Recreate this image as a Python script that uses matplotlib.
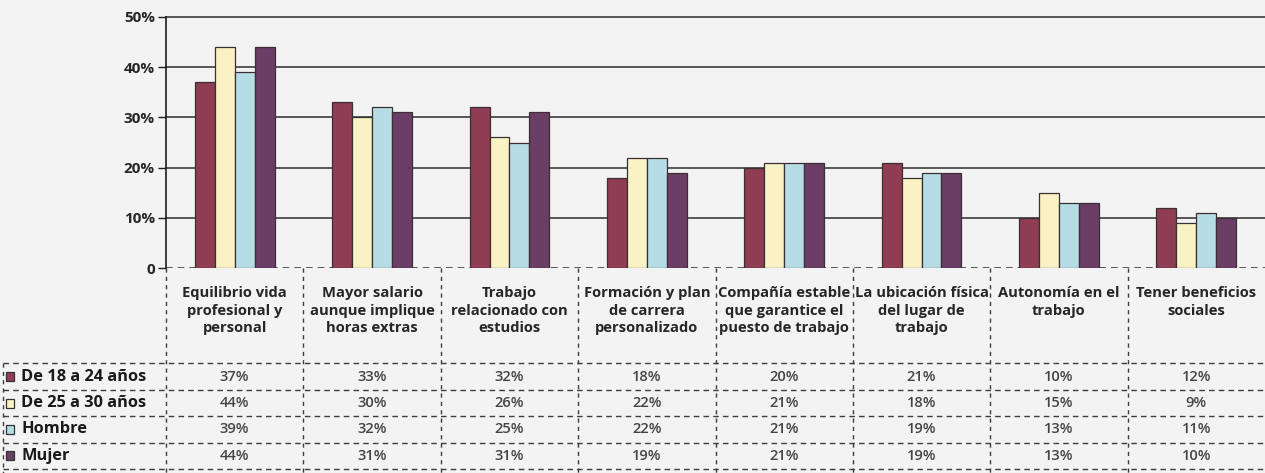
import matplotlib
matplotlib.use("Agg")
import matplotlib.pyplot as plt
from matplotlib.transforms import blended_transform_factory
from matplotlib.patches import Rectangle

# ---- data -------------------------------------------------------------
categories = [
    "Equilibrio vida\nprofesional y\npersonal",
    "Mayor salario\naunque implique\nhoras extras",
    "Trabajo\nrelacionado con\nestudios",
    "Formación y plan\nde carrera\npersonalizado",
    "Compañía estable\nque garantice el\npuesto de trabajo",
    "La ubicación física\ndel lugar de\ntrabajo",
    "Autonomía en el\ntrabajo",
    "Tener beneficios\nsociales",
]
series_names = ["De 18 a 24 años", "De 25 a 30 años", "Hombre", "Mujer"]
edad_18_24 = [37, 33, 32, 18, 20, 21, 10, 12]
edad_25_30 = [44, 30, 26, 22, 21, 18, 15, 9]
hombre = [39, 32, 25, 22, 21, 19, 13, 11]
mujer = [44, 31, 31, 19, 21, 19, 13, 10]
series_values = [edad_18_24, edad_25_30, hombre, mujer]
y_ticks = [0, 10, 20, 30, 40, 50]
y_tick_labels = ["0", "10%", "20%", "30%", "40%", "50%"]

colors = ["#8e3d52", "#f8f2c4", "#b6dce5", "#6b3e66"]

# ---- figure -----------------------------------------------------------
W, H = 1265, 473
fig = plt.figure(figsize=(W / 100, H / 100), dpi=100)
fig.patch.set_facecolor("#f4f3f4")

FONT = "Open Sans"
ink = "#262626"
line_col = "#3c3c3c"

# table area in pixel rows (y grows downward)
tab = fig.add_axes([0, 0, 1, 1], zorder=0)
tab.set_xlim(0, W)
tab.set_ylim(H, 0)
tab.axis("off")

# bar chart
ax_left, ax_bottom_px, ax_top_px = 166, 268, 17
ax = fig.add_axes([ax_left / W, 1 - ax_bottom_px / H, 1 - ax_left / W,
                   (ax_bottom_px - ax_top_px) / H], zorder=2)
ax.set_facecolor("none")
n = len(categories)
ax.set_xlim(-0.5, n - 0.5)
ax.set_ylim(0, 50)

for v in y_ticks[1:]:
    ax.axhline(v, color=line_col, lw=1.2, zorder=0, clip_on=False)
ax.axhline(0, color=line_col, lw=1.2, ls=(0, (4, 3)), zorder=0)

bw = 0.145
for s, (vals, col) in enumerate(zip(series_values, colors)):
    xs = [i + (s - 1.5) * bw for i in range(n)]
    ax.bar(xs, vals, width=bw, color=col, edgecolor="#3a2f33",
           linewidth=0.9, zorder=3)

for side in ["top", "right", "bottom"]:
    ax.spines[side].set_visible(False)
ax.spines["left"].set_color("#1e1e1e")
ax.spines["left"].set_linewidth(1.2)
ax.set_xticks([])
ax.set_yticks(y_ticks)
ax.set_yticklabels(y_tick_labels, fontfamily=FONT, fontweight="bold",
                   fontsize=11, color=ink)
ax.tick_params(axis="y", direction="out", length=6, width=1.0,
               color="#1e1e1e", pad=2)

# ---- table below the chart -------------------------------------------
tr = blended_transform_factory(ax.transData, tab.transData)
dash = (0, (4, 3))
vdash = (0, (3, 3))

header_top = 286
row_lines = [363, 390, 416, 442.5, 469]
row_centers = [(a + b) / 2 for a, b in zip(row_lines[:-1], row_lines[1:])]
label_x0 = -0.5 - (166 - 3) / 137.4      # left edge of the label box
label_sq = -0.5 - (166 - 6) / 137.4
label_tx = -0.5 - (166 - 21) / 137.4

# vertical column dividers
for k in range(n):
    tab.plot([k - 0.5, k - 0.5], [ax_bottom_px, H], transform=tr,
             color=line_col, lw=1.0, ls=vdash, clip_on=False)
tab.plot([label_x0, label_x0], [row_lines[0], H], transform=tr,
         color=line_col, lw=1.0, ls=vdash, clip_on=False)

# horizontal row lines
for y in row_lines:
    tab.plot([label_x0, n - 0.5], [y, y], transform=tr,
             color=line_col, lw=1.0, ls=dash, clip_on=False)

# category headers
for i, cat in enumerate(categories):
    tab.text(i, header_top, cat, transform=tr, ha="center", va="top",
             fontfamily=FONT, fontweight="bold", fontsize=10.6,
             color=ink, linespacing=1.32)

# row labels with colour keys, and values
for r, (name, vals, col) in enumerate(zip(series_names, series_values, colors)):
    yc = row_centers[r]
    tab.add_patch(Rectangle((label_sq, yc - 4.5), 0.06, 9, transform=tr,
                            facecolor=col, edgecolor="#333333", lw=0.9,
                            clip_on=False))
    tab.text(label_tx, yc, name, transform=tr, ha="left", va="center",
             fontfamily=FONT, fontweight="bold", fontsize=11.8,
             color="#1a1a1a")
    for i, v in enumerate(vals):
        tab.text(i, yc, f"{v}%", transform=tr, ha="center", va="center",
                 fontfamily=FONT, fontweight="semibold", fontsize=10.6,
                 color="#444444")

fig.savefig("out.png", dpi=100, facecolor=fig.get_facecolor())
